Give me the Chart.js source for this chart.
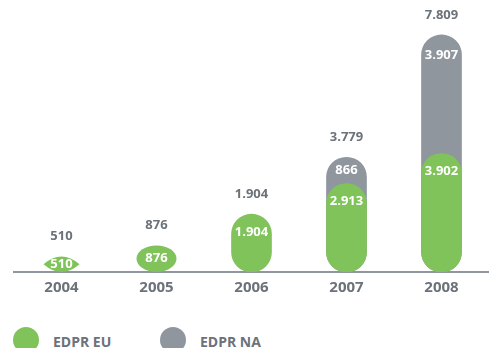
<!DOCTYPE html>
<html>
<head>
<meta charset="utf-8">
<script src="https://cdn.jsdelivr.net/npm/chart.js@4.4.1/dist/chart.umd.min.js"></script>
<style>
  html,body{margin:0;padding:0;background:#fff;overflow:hidden;width:489px;height:348px;}
  #wrap{position:relative;width:489px;height:300px;}
  .leg{position:absolute;font:bold 14px "Open Sans", "DejaVu Sans", sans-serif;color:#6c727a;}
  .dot{position:absolute;width:26px;height:26px;border-radius:50%;}
</style>
</head>
<body>
<div id="wrap"><canvas id="cap"></canvas></div>
<div class="dot" style="left:13px;top:327px;background:#80c35a"></div>
<div class="leg" style="left:53px;top:332px">EDPR EU</div>
<div class="dot" style="left:160px;top:327px;background:#8f969e"></div>
<div class="leg" style="left:200px;top:332px">EDPR NA</div>
<script>
const years = ['2004','2005','2006','2007','2008'];
const euMW = [510, 876, 1904, 2913, 3902];
const naMW = [0, 0, 0, 866, 3907];

const GREEN = '#80c35a', GREY = '#8f969e', TEXT = '#6c727a';
const FONT = '"Open Sans", "DejaVu Sans", sans-serif';

const totals = euMW.map((v,i)=> v + naMW[i]);
const fmt = v => String(v).replace(/\B(?=(\d{3})+(?!\d))/g, '.');

// pill shaped bars; short ones turn into an ellipse or a leaf
class PillBar extends Chart.BarElement {
  draw(ctx){
    const {x, y, base, width} = this.getProps(['x','y','base','width']);
    const h = base - y;
    if(h >= width) return super.draw(ctx);
    const mid = (y + base)/2;
    ctx.save();
    ctx.fillStyle = this.options.backgroundColor;
    ctx.beginPath();
    if(h < width*0.5){
      const hw = width*0.45;
      ctx.moveTo(x - hw, mid);
      ctx.quadraticCurveTo(x, mid - h, x + hw, mid);
      ctx.quadraticCurveTo(x, mid + h, x - hw, mid);
    } else {
      ctx.ellipse(x, mid, width/2, h/2, 0, 0, Math.PI*2);
    }
    ctx.fill();
    ctx.restore();
  }
}
PillBar.id = 'pillBar';
PillBar.defaults = Chart.BarElement.defaults;

class PillBarController extends Chart.BarController {}
PillBarController.id = 'pillBar';
PillBarController.defaults = Object.assign({}, Chart.BarController.defaults, {dataElementType:'pillBar'});
PillBarController.overrides = Chart.BarController.overrides;

Chart.register(PillBar, PillBarController);

// value labels: totals above each column, segment values inside
const labelPlugin = {
  id:'valueLabels',
  afterDatasetsDraw(chart){
    const ctx = chart.ctx;
    const y = chart.scales.y;
    const eu = chart.getDatasetMeta(0).data;
    const na = chart.getDatasetMeta(1).data;
    ctx.save();
    ctx.textAlign = 'center';
    ctx.textBaseline = 'middle';
    ctx.font = 'bold 13px ' + FONT;
    years.forEach((yr,i)=>{
      const g = eu[i];
      const top = y.getPixelForValue(totals[i]);
      ctx.fillStyle = TEXT;
      ctx.fillText(fmt(totals[i]), g.x, top - 20);
      ctx.fillStyle = '#fff';
      const h = g.base - g.y;
      ctx.fillText(fmt(euMW[i]), g.x, h < 36 ? (g.y + g.base)/2 : g.y + 18);
      if(naMW[i] > 0){
        const n = na[i];
        ctx.fillText(fmt(naMW[i]), n.x, Math.min(n.y + 20, (n.y + g.y)/2));
      }
    });
    ctx.restore();
  }
};

new Chart(document.getElementById('cap'), {
  type:'pillBar',
  data:{
    labels: years,
    datasets:[
      {label:'EDPR EU', data: euMW, backgroundColor: GREEN},
      {label:'EDPR NA', data: totals.map((t,i)=> naMW[i] ? t : null), backgroundColor: GREY}
    ]
  },
  options:{
    responsive:true,
    maintainAspectRatio:false,
    animation:false,
    layout:{padding:{left:14, right:0, top:0, bottom:0}},
    datasets:{pillBar:{grouped:false, barThickness:40, borderRadius:20, borderSkipped:false}},
    plugins:{legend:{display:false}, tooltip:{enabled:false}},
    scales:{
      x:{
        grid:{display:false, drawTicks:false},
        border:{display:true, color:GREY, width:2},
        ticks:{color:TEXT, padding:7, font:{family:FONT, size:15, weight:'bold'}},
        afterFit(s){ s.height = 28; }
      },
      y:{display:false, min:0, max:8960}
    }
  },
  plugins:[labelPlugin]
});
</script>
</body>
</html>
